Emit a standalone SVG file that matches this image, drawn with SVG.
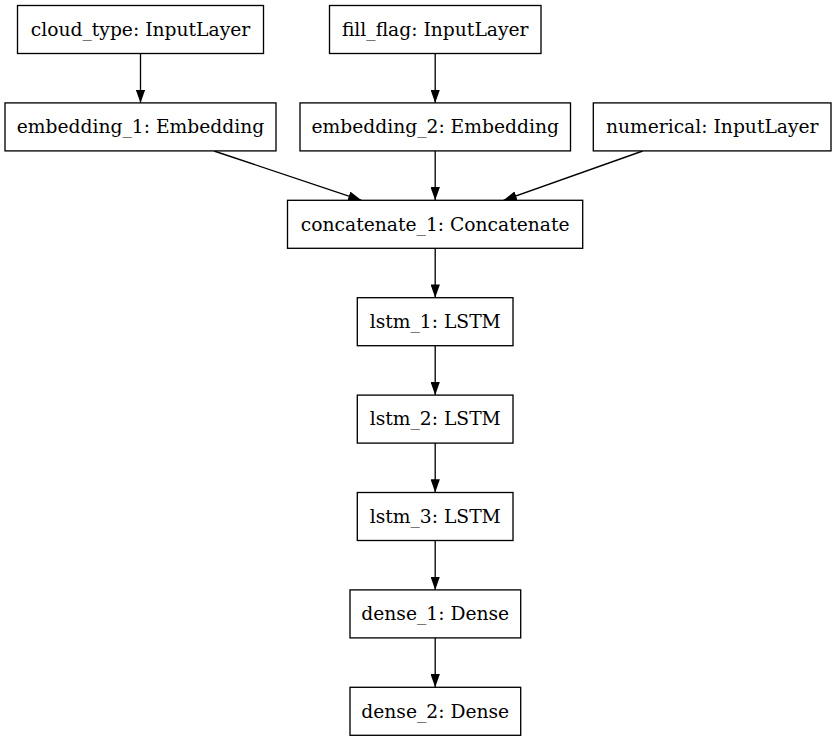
<svg xmlns="http://www.w3.org/2000/svg" width="837" height="741" viewBox="0 0 837 741">
<style>
.box{fill:#fff;stroke:#000;stroke-width:1.33}
.lbl{font-family:"DejaVu Serif","Liberation Serif",serif;font-size:18.7px;fill:#000;text-anchor:middle}
.edge{stroke:#000;stroke-width:1.33;fill:none;marker-end:url(#arr)}
</style>
<defs>
<marker id="arr" viewBox="0 0 13.3 9.4" refX="13.3" refY="4.7" markerWidth="13.3" markerHeight="9.4" markerUnits="userSpaceOnUse" orient="auto">
<path d="M0,0 L13.3,4.7 L0,9.4 z" fill="#000"/>
</marker>
</defs>
<rect width="837" height="741" fill="#fff"/>
<g id="edges">
<line class="edge" x1="140.5" y1="53.5" x2="140.5" y2="102.9"/>
<line class="edge" x1="435.2" y1="53.5" x2="435.2" y2="102.9"/>
<line class="edge" x1="214" y1="151" x2="361.5" y2="200.3"/>
<line class="edge" x1="435.2" y1="151" x2="435.2" y2="200.3"/>
<line class="edge" x1="642.7" y1="151" x2="503.5" y2="200.3"/>
<line class="edge" x1="435.2" y1="248.3" x2="435.2" y2="297.7"/>
<line class="edge" x1="435.2" y1="345.7" x2="435.2" y2="395.1"/>
<line class="edge" x1="435.2" y1="443.1" x2="435.2" y2="492.5"/>
<line class="edge" x1="435.2" y1="540.5" x2="435.2" y2="589.9"/>
<line class="edge" x1="435.2" y1="637.9" x2="435.2" y2="687.3"/>
</g>
<g id="cloud_type"><rect class="box" x="17.5" y="5.5" width="246" height="48"/><text class="lbl" x="140.5" y="35.8">cloud_type: InputLayer</text></g>
<g id="fill_flag"><rect class="box" x="329.5" y="5.5" width="211.5" height="48"/><text class="lbl" x="435.2" y="35.8">fill_flag: InputLayer</text></g>
<g id="embedding_1"><rect class="box" x="5" y="102.9" width="271" height="48"/><text class="lbl" x="140.5" y="133.2">embedding_1: Embedding</text></g>
<g id="embedding_2"><rect class="box" x="300" y="102.9" width="270.5" height="48"/><text class="lbl" x="435.2" y="133.2">embedding_2: Embedding</text></g>
<g id="numerical"><rect class="box" x="593.3" y="102.9" width="237.7" height="48"/><text class="lbl" x="712.2" y="133.2">numerical: InputLayer</text></g>
<g id="concatenate_1"><rect class="box" x="287.5" y="200.3" width="295.2" height="48"/><text class="lbl" x="435.2" y="230.6">concatenate_1: Concatenate</text></g>
<g id="lstm_1"><rect class="box" x="357.3" y="297.7" width="155.7" height="48"/><text class="lbl" x="435.2" y="328">lstm_1: LSTM</text></g>
<g id="lstm_2"><rect class="box" x="357.3" y="395.1" width="155.7" height="48"/><text class="lbl" x="435.2" y="425.4">lstm_2: LSTM</text></g>
<g id="lstm_3"><rect class="box" x="357.3" y="492.5" width="155.7" height="48"/><text class="lbl" x="435.2" y="522.8">lstm_3: LSTM</text></g>
<g id="dense_1"><rect class="box" x="350" y="589.9" width="170.7" height="48"/><text class="lbl" x="435.2" y="620.2">dense_1: Dense</text></g>
<g id="dense_2"><rect class="box" x="350" y="687.3" width="170.7" height="48"/><text class="lbl" x="435.2" y="717.6">dense_2: Dense</text></g>
</svg>
